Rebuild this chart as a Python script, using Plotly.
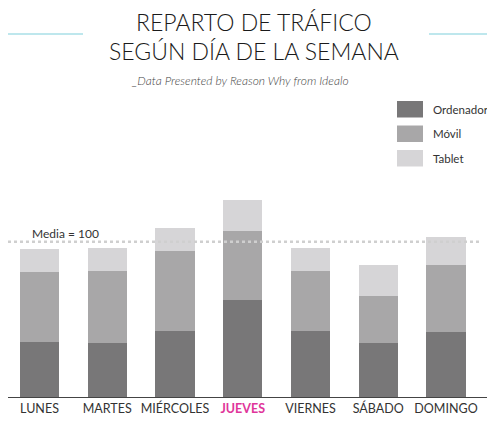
#!/usr/bin/env python3
# -*- coding: utf-8 -*-

import plotly.graph_objects as go

# --- data (index: media = 100) ---
dias = ["LUNES", "MARTES", "MIÉRCOLES", "JUEVES", "VIERNES", "SÁBADO", "DOMINGO"]
ordenador = [35.4, 34.8, 42.5, 62.5, 42.5, 34.8, 41.9]
movil = [45.1, 46.3, 51.5, 44.4, 38.6, 30.2, 43.1]
tablet = [14.6, 14.8, 14.8, 19.8, 14.8, 20.0, 18.0]
media = 100
destacado = "JUEVES"

# the page body has an 8px margin, so the figure is drawn 8px in from the window corner
OFF = 8
W, H = 495 - OFF, 425 - OFF
BASE = 397 - OFF  # x axis line, in figure pixels

COL_ORD = "#787778"
COL_MOV = "#a8a7a8"
COL_TAB = "#d6d5d7"
FONT = "Lato"


def px(x):
    # window pixel -> paper x
    return (x - OFF) / W


def py(y):
    # window pixel -> paper y (bottom margin = H - BASE, top margin 0)
    return (BASE - (y - OFF)) / BASE


fig = go.Figure()
for name, vals, col in [("Ordenador", ordenador, COL_ORD),
                        ("Móvil", movil, COL_MOV),
                        ("Tablet", tablet, COL_TAB)]:
    fig.add_trace(go.Bar(x=dias, y=vals, name=name, marker=dict(color=col, line=dict(width=0)),
                         showlegend=False))

ticktext = [f"<span style='color:#e0359a'><b>{d}</b></span>" if d == destacado else d for d in dias]

# plot area: x from window px 8 to 492, bars centred at 39.5 ... 446
ppu = (446 - 39.5) / 6
x_lo = -0.5 - (39.5 - 0.5 * ppu - OFF) / ppu
x_hi = 6 + (492 - 446) / ppu

fig.update_layout(
    width=W, height=H,
    barmode="stack",
    bargap=0.42,
    plot_bgcolor="white",
    paper_bgcolor="white",
    margin=dict(l=0, r=0, t=0, b=H - BASE, pad=0),
    font=dict(family=FONT, color="#333333", size=12),
    xaxis=dict(
        domain=[0, px(492)],
        range=[x_lo, x_hi],
        tickvals=dias, ticktext=ticktext,
        tickfont=dict(size=12.5, color="#333333"),
        showline=True, linecolor="#444444", linewidth=1,
        ticks="", ticklen=0, showgrid=False,
    ),
    yaxis=dict(
        domain=[0, py(190)],
        range=[0, 207 / 1.553],
        visible=False, showgrid=False,
    ),
)

# media line
fig.add_shape(type="line", xref="paper", yref="y", x0=px(8), x1=px(481), y0=media, y1=media,
              line=dict(color="#cfcfcf", width=2.5, dash="dot"), layer="above")
fig.add_annotation(xref="paper", yref="paper", x=px(30), y=py(233), text=f"Media = {media}",
                   showarrow=False, xanchor="left", yanchor="middle",
                   font=dict(size=12, color="#333333"))

# title block
for txt, yc in [("REPARTO DE TRÁFICO", 22.5), ("SEGÚN DÍA DE LA SEMANA", 50.5)]:
    fig.add_annotation(xref="paper", yref="paper", x=px(254), y=py(yc), text=txt,
                       showarrow=False, xanchor="center", yanchor="middle",
                       font=dict(size=23, color="#1a1a1a", family=FONT, weight=300))
fig.add_annotation(xref="paper", yref="paper", x=px(240), y=py(80),
                   text="<i>_Data Presented by Reason Why from Idealo</i>",
                   showarrow=False, xanchor="center", yanchor="middle",
                   font=dict(size=12, color="#444444", weight=300))
for x0, x1 in [(8, 83), (429, 491)]:
    fig.add_shape(type="line", xref="paper", yref="paper", x0=px(x0), x1=px(x1),
                  y0=py(34), y1=py(34), line=dict(color="#7fd0dc", width=1.2))

# legend
for i, (name, col) in enumerate([("Ordenador", COL_ORD), ("Móvil", COL_MOV), ("Tablet", COL_TAB)]):
    top = 101 + i * 24.5
    fig.add_shape(type="rect", xref="paper", yref="paper", x0=px(397), x1=px(423),
                  y0=py(top), y1=py(top + 16.5), fillcolor=col, line=dict(width=0))
    fig.add_annotation(xref="paper", yref="paper", x=px(431), y=py(top + 8), text=name,
                       showarrow=False, xanchor="left", yanchor="middle",
                       font=dict(size=11.5, color="#333333"))

fig.write_html("out.html")
